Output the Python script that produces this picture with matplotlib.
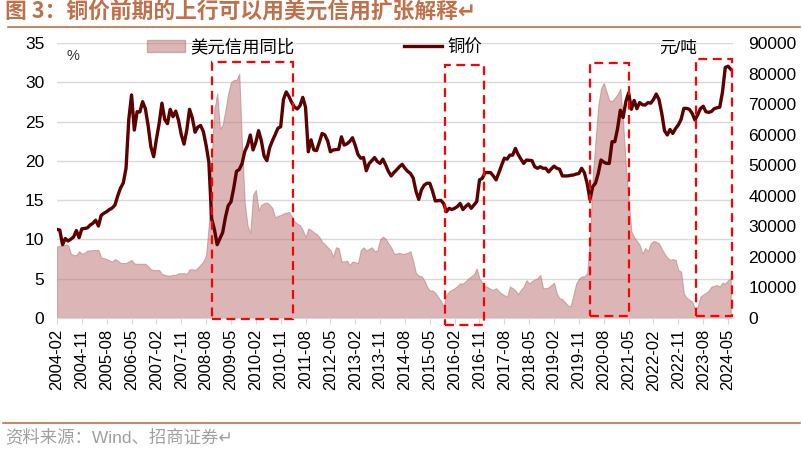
import pandas as pd
import matplotlib
matplotlib.use("Agg")
import matplotlib.pyplot as plt
from matplotlib.patches import Rectangle, Patch
from matplotlib.lines import Line2D

plt.rcParams['font.family'] = ['Liberation Sans', 'Noto Sans CJK SC', 'DejaVu Sans']

# 月度数据, 2004-02 起
start_month = "2004-02"

# 铜价 (元/吨)
copper = [
    29000, 28800, 24000, 26000, 25200, 25800, 26500, 28600, 26300, 29200,
    29300, 29500, 30400, 31000, 32000, 30100, 33600, 34300, 34800, 35500,
    36000, 37000, 40000, 42500, 44200, 49000, 65000, 73000, 61500, 67500,
    67400, 70800, 68500, 63000, 56000, 52800, 58500, 63700, 70300, 65000,
    63600, 68300, 65900, 67700, 64700, 60000, 56900, 61500, 68300, 65500,
    60800, 62500, 63000, 61000, 56500, 51000, 32500, 29000, 24000, 26000,
    28000, 33000, 36800, 38000, 42500, 48000, 48600, 50500, 54500, 56500,
    59900, 55000, 57500, 61300, 58000, 53000, 51500, 55700, 58000, 60000,
    62100, 62600, 71500, 74000, 72500, 70500, 69000, 68400, 69500, 72200,
    69000, 54400, 58300, 55000, 54800, 57500, 60400, 59900, 58000, 54400,
    55000, 55100, 55200, 59300, 56600, 57000, 57800, 59000, 56500, 53500,
    52300, 52500, 48200, 50500, 51500, 52500, 51200, 50600, 52000, 50100,
    48000, 46500, 47600, 48500, 49500, 50300, 49000, 48000, 47300, 45800,
    41500, 38800, 42000, 43500, 44100, 44100, 41500, 38300, 38400, 38500,
    37500, 34800, 35900, 35500, 35900, 36500, 37500, 35500, 36500, 37300,
    35900, 37000, 38100, 45200, 45700, 47600, 47600, 47600, 46500, 45200,
    47500, 50000, 52300, 52000, 53300, 53300, 55500, 53500, 52000, 50600,
    51700, 51600, 51500, 49500, 49000, 49500, 49000, 49000, 47800, 48800,
    49700, 49000, 48700, 46500, 46500, 46500, 46700, 46800, 47100, 47300,
    49000, 47500, 44000, 38800, 43000, 44100, 47300, 51700, 51000, 50600,
    50600, 57700, 57700, 62000, 68000, 65600, 70800, 73700, 68300, 71200,
    68500, 70500, 69800, 69700, 70500, 70300, 71500, 73300, 71500, 67000,
    61300, 59900, 61700, 60400, 62000, 63200, 65000, 68600, 68600, 68300,
    67000, 64800, 66500, 68500, 69300, 67500, 67300, 67600, 68500, 68800,
    69000, 74000, 82000, 82400, 81400,
]

# 美元信用同比 (%)
credit = [
    9.1, 9.2, 9.2, 9.3, 9.3, 8.2, 8.0, 8.0, 8.5, 8.2,
    8.3, 8.6, 8.6, 8.65, 8.65, 8.65, 7.7, 7.6, 7.5, 7.3,
    7.2, 7.5, 7.3, 7.0, 7.0, 7.0, 7.2, 7.4, 6.95, 6.9,
    6.9, 6.9, 6.9, 6.6, 6.2, 6.1, 6.1, 6.1, 5.6, 5.5,
    5.4, 5.4, 5.5, 5.5, 5.7, 5.7, 5.7, 5.6, 6.2, 6.2,
    6.1, 6.4, 6.8, 7.2, 8.0, 12.0, 20.5, 26.5, 28.6, 24.1,
    24.6, 26.5, 28.6, 30.0, 30.3, 30.3, 31.1, 22.0, 14.6, 11.8,
    10.8, 15.7, 16.3, 13.7, 14.4, 14.6, 14.7, 14.4, 14.0, 12.8,
    13.0, 13.1, 13.3, 13.4, 13.5, 12.9, 12.3, 12.0, 11.8, 11.2,
    10.3, 11.4, 11.2, 10.9, 10.7, 10.3, 9.7, 9.4, 9.0, 8.65,
    7.8, 9.0, 8.9, 7.2, 7.2, 7.3, 6.75, 7.2, 7.1, 7.0,
    8.65, 9.0, 8.6, 8.8, 9.0, 8.5, 8.6, 10.0, 10.35, 10.1,
    9.5, 9.0, 8.2, 8.2, 8.3, 8.15, 8.2, 8.3, 8.5, 7.2,
    5.7, 5.4, 5.3, 4.8, 4.0, 3.5, 3.5, 3.2, 2.7, 2.2,
    1.45, 2.9, 3.4, 3.6, 3.8, 4.1, 4.4, 4.4, 4.7, 5.05,
    5.3, 5.6, 6.3, 5.0, 4.5, 4.1, 3.9, 3.7, 3.6, 3.8,
    3.4, 3.1, 2.9, 2.7, 4.0, 3.8, 3.5, 3.05, 3.6, 4.0,
    4.8, 4.4, 4.7, 4.9, 5.05, 5.5, 3.8, 3.8, 3.9, 4.2,
    4.5, 3.1, 2.5, 2.4, 2.0, 1.6, 1.5, 2.9, 4.4, 5.0,
    5.3, 5.3, 5.7, 10.0, 18.0, 22.5, 27.0, 29.2, 29.9, 28.8,
    27.7, 27.6, 28.0, 28.5, 29.2, 25.0, 19.3, 15.0, 11.0, 10.3,
    9.8, 9.3, 8.2, 8.9, 8.5, 9.5, 9.8, 9.7, 9.5, 8.8,
    8.2, 7.7, 7.4, 7.5, 7.4, 6.1, 5.9, 3.1, 2.6, 2.3,
    2.1, 1.2, 1.45, 2.7, 3.0, 3.2, 3.5, 4.0, 4.1, 4.2,
    4.0, 4.5, 4.4, 4.8, 5.05,
]

months = pd.period_range(start_month, periods=len(copper), freq="M")
x = list(range(len(months)))

# 红色虚线框: 起止月份序号, 上下边 (左轴 %)
box_start = [56, 140.5, 193, 231.4]
box_end = [85.6, 154.6, 207.2, 244.4]
box_top = [32.6, 32.2, 32.4, 33.0]
box_bottom = [-0.1, -0.9, 0.25, 0.25]

title_color = "#C0704A"
line_color = "#5C0000"

fig = plt.figure(figsize=(8.04, 4.5), dpi=100)
ax = fig.add_axes([57 / 804, 1 - 318 / 450, 676 / 804, 275 / 450])
ax2 = ax.twinx()

# 面积图 美元信用同比
ax.fill_between(x, credit, 0, facecolor="#C07A7A", alpha=0.55,
                edgecolor="#B87878", linewidth=0.8)
ax.set_ylim(0, 35)
ax.set_yticks(range(0, 36, 5))
ax.set_xlim(0, 244.8)
ax.yaxis.grid(True, color="#D9D9D9", linewidth=1)
ax.set_axisbelow(True)

tick_pos = x[::9]
ax.set_xticks(tick_pos)
ax.set_xticklabels([str(months[i]) for i in tick_pos], rotation=90)

# 铜价折线
ax2.plot(x, copper, color=line_color, linewidth=2.4)
ax2.set_ylim(0, 90000)
ax2.set_yticks(range(0, 90001, 10000))

for a in (ax, ax2):
    for s in ("top", "left", "right"):
        a.spines[s].set_visible(False)
    a.spines["bottom"].set_color("#D9D9D9")
ax.tick_params(axis="y", length=0, pad=9, labelsize=12.5)
ax2.tick_params(axis="y", length=0, pad=11, labelsize=12.5)
ax.tick_params(axis="x", length=4, color="#D9D9D9", pad=4, labelsize=12)

for s, e, t, b in zip(box_start, box_end, box_top, box_bottom):
    r = Rectangle((s, b), e - s, t - b, transform=ax.transData, fill=False,
                  edgecolor="#FF0000", linewidth=1.6, linestyle=(0, (4, 2.5)),
                  clip_on=False, zorder=5)
    ax2.add_patch(r)

# 图例
handles = [Patch(facecolor="#C07A7A", alpha=0.55, edgecolor="#B87878"),
           Line2D([], [], color=line_color, linewidth=2.4)]
fig.legend(handles, ["美元信用同比", "铜价"], loc="center left",
           bbox_to_anchor=(147 / 804, 1 - 47 / 450), ncol=2, frameon=False,
           fontsize=12.5, handlelength=2.2, handletextpad=0.3,
           columnspacing=6.3, borderpad=0, borderaxespad=0)

fig.text(67 / 804, 1 - 56 / 450, "%", fontsize=10.5, va="center", color="#333333")
fig.text(659 / 804, 1 - 48 / 450, "元/吨", fontsize=12, va="center")

# 标题与来源
fig.text(5 / 804, 1 - 12 / 450, "图 3：铜价前期的上行可以用美元信用扩张解释↵",
         fontsize=15.7, fontweight="bold", color=title_color, va="center",
         family=["Noto Sans CJK SC", "DejaVu Sans"])
fig.add_artist(Line2D([8 / 804, 800 / 804], [1 - 27 / 450, 1 - 27 / 450],
                      color=title_color, linewidth=1.2))
fig.add_artist(Line2D([3 / 804, 800 / 804], [1 - 423 / 450, 1 - 423 / 450],
                      color=title_color, linewidth=1.2))
fig.text(5 / 804, 1 - 437 / 450, "资料来源：Wind、招商证券↵", fontsize=12.5,
         color="#A0A0A0", va="center")

fig.savefig("out.png", dpi=100)
